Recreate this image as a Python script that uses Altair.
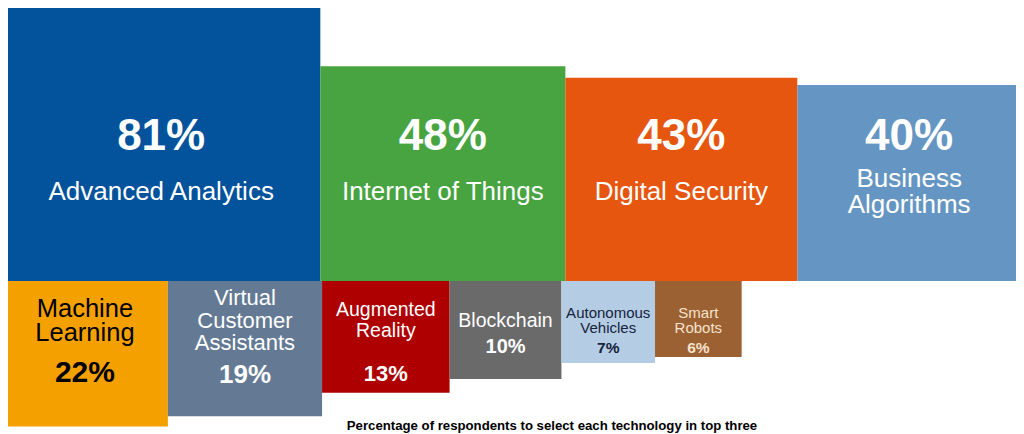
import math
import altair as alt
import pandas as pd

# ---------------- data ----------------
top_labels = ["Advanced Analytics", "Internet of Things", "Digital Security", "Business\nAlgorithms"]
top_values = [81, 48, 43, 40]
top_colors = ["#03529C", "#47A441", "#E6560F", "#6596C3"]

bottom_labels = ["Machine\nLearning", "Virtual\nCustomer\nAssistants", "Augmented\nReality",
                 "Blockchain", "Autonomous\nVehicles", "Smart\nRobots"]
bottom_values = [22, 19, 13, 10, 7, 6]
bottom_colors = ["#F4A100", "#647A94", "#AE0000", "#6A6A6A", "#B4CCE4", "#9C6133"]
bottom_text_colors = ["#000000", "#FFFFFF", "#FFFFFF", "#FFFFFF", "#15233C", "#F6E2CC"]

footnote = "Percentage of respondents to select each technology in top three"

# ---------------- styles ----------------
FONT = "Liberation Sans"
top_pct_size = 44
top_pct_offset = -131
top_label_size = 26
top_label_lh = 26
top_label_center = -90
bottom_label_size = [25.5, 22, 19.5, 19.5, 15, 15]
bottom_label_lh = [23.5, 22.5, 21, 21, 15.5, 15.5]
bottom_label_center = 39
bottom_pct_size = [30, 26, 22, 20, 15.5, 15.5]
bottom_pct_offset = [101, 102, 100, 72, 71.5, 71.5]

W, H = 1008, 426
ORIGIN_X, ORIGIN_Y = -6, 273          # svg pixel position of layout origin
top_sides = [math.sqrt(v) for v in top_values]
bottom_sides = [math.sqrt(v) for v in bottom_values]
PX_X = 1019 / sum(top_sides)
PX_Y = 279 / max(top_sides)
x_domain = [(0 - ORIGIN_X) / PX_X, (W - ORIGIN_X) / PX_X]
y_domain = [(ORIGIN_Y - H) / PX_Y, ORIGIN_Y / PX_Y]

# ---------------- layout tables ----------------
rects, labels, pcts = [], [], []

def add_row(names, values, sides, colors, top):
    x = 0.0
    for i, (n, v, s, c) in enumerate(zip(names, values, sides, colors)):
        rects.append({"x0": x, "x1": x + s, "y0": 0.0 if top else -s,
                      "y1": s if top else 0.0, "color": c})
        cx = x + s / 2
        lines = n.split("\n")
        if top:
            fs, lh, center, tcol = top_label_size, top_label_lh, top_label_center, "#FFFFFF"
            pfs, poff, pcol = top_pct_size, top_pct_offset, "#FFFFFF"
        else:
            fs, lh, center, tcol = (bottom_label_size[i], bottom_label_lh[i],
                                    bottom_label_center, bottom_text_colors[i])
            pfs, poff, pcol = bottom_pct_size[i], bottom_pct_offset[i], bottom_text_colors[i]
        k = len(lines)
        for j, ln in enumerate(lines):
            off = center + 0.716 * fs / 2 + (j - (k - 1) / 2) * lh
            labels.append({"cx": cx, "cy": -off / PX_Y, "text": ln, "fs": fs, "col": tcol})
        pcts.append({"cx": cx, "cy": -poff / PX_Y, "text": f"{v}%", "fs": pfs, "col": pcol})
        x += s

add_row(top_labels, top_values, top_sides, top_colors, True)
add_row(bottom_labels, bottom_values, bottom_sides, bottom_colors, False)

xs = alt.Scale(domain=x_domain, nice=False, zero=False)
ys = alt.Scale(domain=y_domain, nice=False, zero=False)

rect_layer = alt.Chart(pd.DataFrame(rects)).mark_rect(strokeWidth=0).encode(
    x=alt.X("x0:Q", scale=xs, axis=None),
    x2="x1:Q",
    y=alt.Y("y0:Q", scale=ys, axis=None),
    y2="y1:Q",
    color=alt.Color("color:N", scale=None),
)

def text_layer(rows, weight):
    return alt.Chart(pd.DataFrame(rows)).mark_text(
        font=FONT, fontWeight=weight, align="center", baseline="alphabetic"
    ).encode(
        x=alt.X("cx:Q", scale=xs, axis=None),
        y=alt.Y("cy:Q", scale=ys, axis=None),
        text="text:N",
        size=alt.Size("fs:Q", scale=None),
        color=alt.Color("col:N", scale=None),
    )

foot_layer = alt.Chart(alt.Data(values=[{"t": footnote}])).mark_text(
    font=FONT, fontWeight="bold", fontSize=13.2, align="center", baseline="alphabetic",
    color="#000000"
).encode(
    x=alt.value(544),
    y=alt.value(422),
    text="t:N",
)

chart = alt.layer(
    rect_layer, text_layer(labels, "normal"), text_layer(pcts, "bold"), foot_layer
).properties(
    width=W, height=H, padding=0,
    autosize=alt.AutoSizeParams(type="none"),
    background="#FFFFFF",
).configure_view(strokeWidth=0)

chart.save("out.html", embed_options={"renderer": "svg", "actions": False})
